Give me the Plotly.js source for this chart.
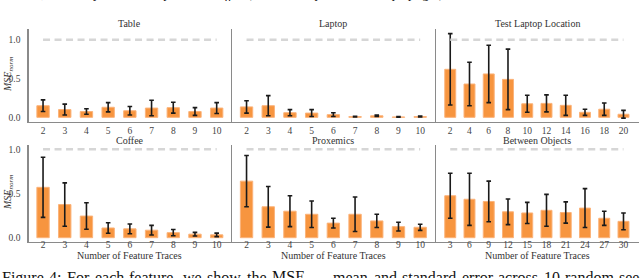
<!DOCTYPE html>
<html>
<head>
<meta charset="utf-8">
<script src="https://cdn.plot.ly/plotly-3.0.1.min.js"></script>
<style>html,body{margin:0;padding:0;background:#fff;}#chart{width:640px;height:278px;}</style>
</head>
<body>
<div id="chart"></div>
<script>
// ---- data ----
const panelTitles = ["Table", "Laptop", "Test Laptop Location", "Coffee", "Proxemics", "Between Objects"];

const tracesTen = ["2", "3", "4", "5", "6", "7", "8", "9", "10"];
const tracesEven = ["2", "4", "6", "8", "10", "12", "14", "16", "18", "20"];
const tracesThree = ["3", "6", "9", "12", "15", "18", "21", "24", "27", "30"];

const tableMean = [0.15, 0.10, 0.075, 0.13, 0.085, 0.12, 0.125, 0.075, 0.12];
const tableErr  = [0.075, 0.07, 0.035, 0.06, 0.055, 0.10, 0.07, 0.05, 0.07];

const laptopMean = [0.135, 0.15, 0.06, 0.055, 0.035, 0.01, 0.02, 0.005, 0.01];
const laptopErr  = [0.08, 0.13, 0.04, 0.045, 0.025, 0.005, 0.01, 0.004, 0.006];

const testLaptopMean = [0.62, 0.43, 0.56, 0.49, 0.175, 0.18, 0.155, 0.065, 0.105, 0.04];
const testLaptopErr  = [0.46, 0.28, 0.37, 0.39, 0.11, 0.11, 0.13, 0.04, 0.08, 0.05];

const coffeeMean = [0.57, 0.375, 0.245, 0.11, 0.10, 0.085, 0.057, 0.04, 0.032];
const coffeeErr  = [0.34, 0.245, 0.15, 0.06, 0.055, 0.055, 0.035, 0.02, 0.02];

const proxemicsMean = [0.64, 0.35, 0.30, 0.265, 0.165, 0.265, 0.19, 0.125, 0.118];
const proxemicsErr  = [0.29, 0.23, 0.175, 0.15, 0.055, 0.195, 0.075, 0.05, 0.035];

const betweenMean = [0.475, 0.435, 0.41, 0.293, 0.28, 0.31, 0.285, 0.335, 0.22, 0.185];
const betweenErr  = [0.255, 0.295, 0.23, 0.145, 0.12, 0.18, 0.12, 0.22, 0.08, 0.095];

const baselineValue = 1.0;
const xAxisTitle = "Number of Feature Traces";
const yAxisTitle = "<i>MSE<sub>norm</sub></i>";

const topCaption = "features, and the <i>xy</i> orientation plane for <i>coffee</i> (the arrow represents the cup upright).";
const bottomCaptionWords = ["Figure", "4:", "For", "each", "feature,", "we", "show", "the", "MSE<sub>norm</sub>",
  "mean", "and", "standard", "error", "across", "10", "random", "seeds"];

const panels = [
  {cats: tracesTen, mean: tableMean, err: tableErr},
  {cats: tracesTen, mean: laptopMean, err: laptopErr},
  {cats: tracesEven, mean: testLaptopMean, err: testLaptopErr},
  {cats: tracesTen, mean: coffeeMean, err: coffeeErr},
  {cats: tracesTen, mean: proxemicsMean, err: proxemicsErr},
  {cats: tracesThree, mean: betweenMean, err: betweenErr}
];

// ---- layout geometry (pixels) ----
const W = 640, H = 278;
const colPx = [[28.5, 231], [232, 434.5], [436, 638.5]];
const rowPx = [[29, 122], [145, 241.5]];
const rowRange = [[-0.06, 1.14], [-0.043, 1.049]];
const rowStandoff = [-1, -6];
const fontFam = "Liberation Serif, Times New Roman, serif";
const barColor = "#f7953f";
const capSize = 16;

const traces = [];
const layout = {
  width: W, height: H,
  margin: {l: 0, r: 0, t: 0, b: 0},
  paper_bgcolor: "#fff", plot_bgcolor: "#fff",
  showlegend: false,
  font: {family: fontFam, color: "#444"},
  annotations: []
};

panels.forEach((p, i) => {
  const k = i + 1;
  const row = Math.floor(i / 3), col = i % 3;
  const xa = "x" + (k === 1 ? "" : k), ya = "y" + (k === 1 ? "" : k);
  traces.push({
    type: "bar", x: p.cats, y: p.mean, xaxis: xa, yaxis: ya,
    width: 0.57,
    marker: {color: barColor, line: {color: "#fbb37a", width: 1}},
    error_y: {type: "data", array: p.err, visible: true, color: "#1a1a1a", thickness: 1.6, width: 2.3},
    hoverinfo: "skip"
  });
  traces.push({
    type: "scatter", mode: "lines", xaxis: xa, yaxis: ya,
    x: [p.cats[0], p.cats[p.cats.length - 1]], y: [baselineValue, baselineValue],
    line: {color: "#d6d6d6", width: 2.5, dash: "7px,4.5px"},
    hoverinfo: "skip"
  });
  const n = p.cats.length;
  const xr = n === 9 ? [-0.67, 8.66] : [-0.74, 9.78];
  layout["xaxis" + (k === 1 ? "" : k)] = {
    domain: [colPx[col][0] / W, colPx[col][1] / W],
    anchor: ya, type: "category", range: xr,
    showline: true, linecolor: "#8a8a8a", linewidth: 1.2,
    showgrid: false, zeroline: false, ticks: "",
    ticklabelstandoff: rowStandoff[row],
    tickfont: {family: fontFam, size: 9.5, color: "#444"},
    fixedrange: true
  };
  layout["yaxis" + (k === 1 ? "" : k)] = {
    domain: [1 - rowPx[row][1] / H, 1 - rowPx[row][0] / H],
    anchor: xa, range: rowRange[row],
    showline: true, linecolor: "#8a8a8a", linewidth: 1.2,
    showgrid: false, zeroline: false,
    tickvals: [0, 0.5, 1.0], ticktext: ["0.0", "0.5", "1.0"],
    showticklabels: col === 0,
    ticks: col === 0 ? "outside" : "", ticklen: 5, tickcolor: "rgba(0,0,0,0)",
    tickfont: {family: fontFam, size: 9.5, color: "#444"},
    fixedrange: true
  };
  const cx = (colPx[col][0] + colPx[col][1]) / 2 / W;
  const ty = row === 0 ? 23 : 140;
  layout.annotations.push({
    text: panelTitles[i], xref: "paper", yref: "paper", x: cx, y: 1 - ty / H,
    xanchor: "center", yanchor: "middle", showarrow: false,
    font: {family: fontFam, size: 10, color: "#333"}
  });
  if (row === 1) {
    layout.annotations.push({
      text: xAxisTitle, xref: "paper", yref: "paper", x: cx, y: 1 - 255.5 / H,
      xanchor: "center", yanchor: "middle", showarrow: false,
      font: {family: fontFam, size: 10, color: "#333"}
    });
  }
  if (col === 0) {
    const cy = row === 0 ? 75 : 193;
    layout.annotations.push({
      text: yAxisTitle, xref: "paper", yref: "paper", x: 8 / W, y: 1 - cy / H,
      xanchor: "center", yanchor: "middle", showarrow: false, textangle: -90,
      font: {family: fontFam, size: 10, color: "#333"}
    });
  }
});

// surrounding paper caption text (cut off at the edges)
layout.annotations.push({
  text: topCaption,
  xref: "paper", yref: "paper", x: -2 / W, y: 1 + 6 / H,
  xanchor: "left", yanchor: "middle", showarrow: false,
  font: {family: fontFam, size: 13, color: "#111"}
});

// justified bottom caption line (words spread like in a typeset paper)
const ctx = document.createElement("canvas").getContext("2d");
function wordWidth(w) {
  ctx.font = capSize + "px 'Liberation Serif'";
  const m = w.match(/^(.*)<sub>(.*)<\/sub>$/);
  if (m) {
    const a = ctx.measureText(m[1]).width;
    ctx.font = (capSize * 0.7) + "px 'Liberation Serif'";
    return a + ctx.measureText(m[2]).width;
  }
  return ctx.measureText(w).width;
}
const widths = bottomCaptionWords.map(wordWidth);
const lineEnd = 652;
const gap = (lineEnd - widths.reduce((a, b) => a + b, 0)) / (bottomCaptionWords.length - 1);
let cursor = 0;
bottomCaptionWords.forEach((w, j) => {
  layout.annotations.push({
    text: w,
    xref: "paper", yref: "paper", x: cursor / W, y: 1 - 277.5 / H,
    xanchor: "left", yanchor: "middle", showarrow: false,
    font: {family: fontFam, size: capSize, color: "#111"}
  });
  cursor += widths[j] + gap;
});

Plotly.newPlot("chart", traces, layout, {staticPlot: true, displayModeBar: false});
</script>
</body>
</html>
